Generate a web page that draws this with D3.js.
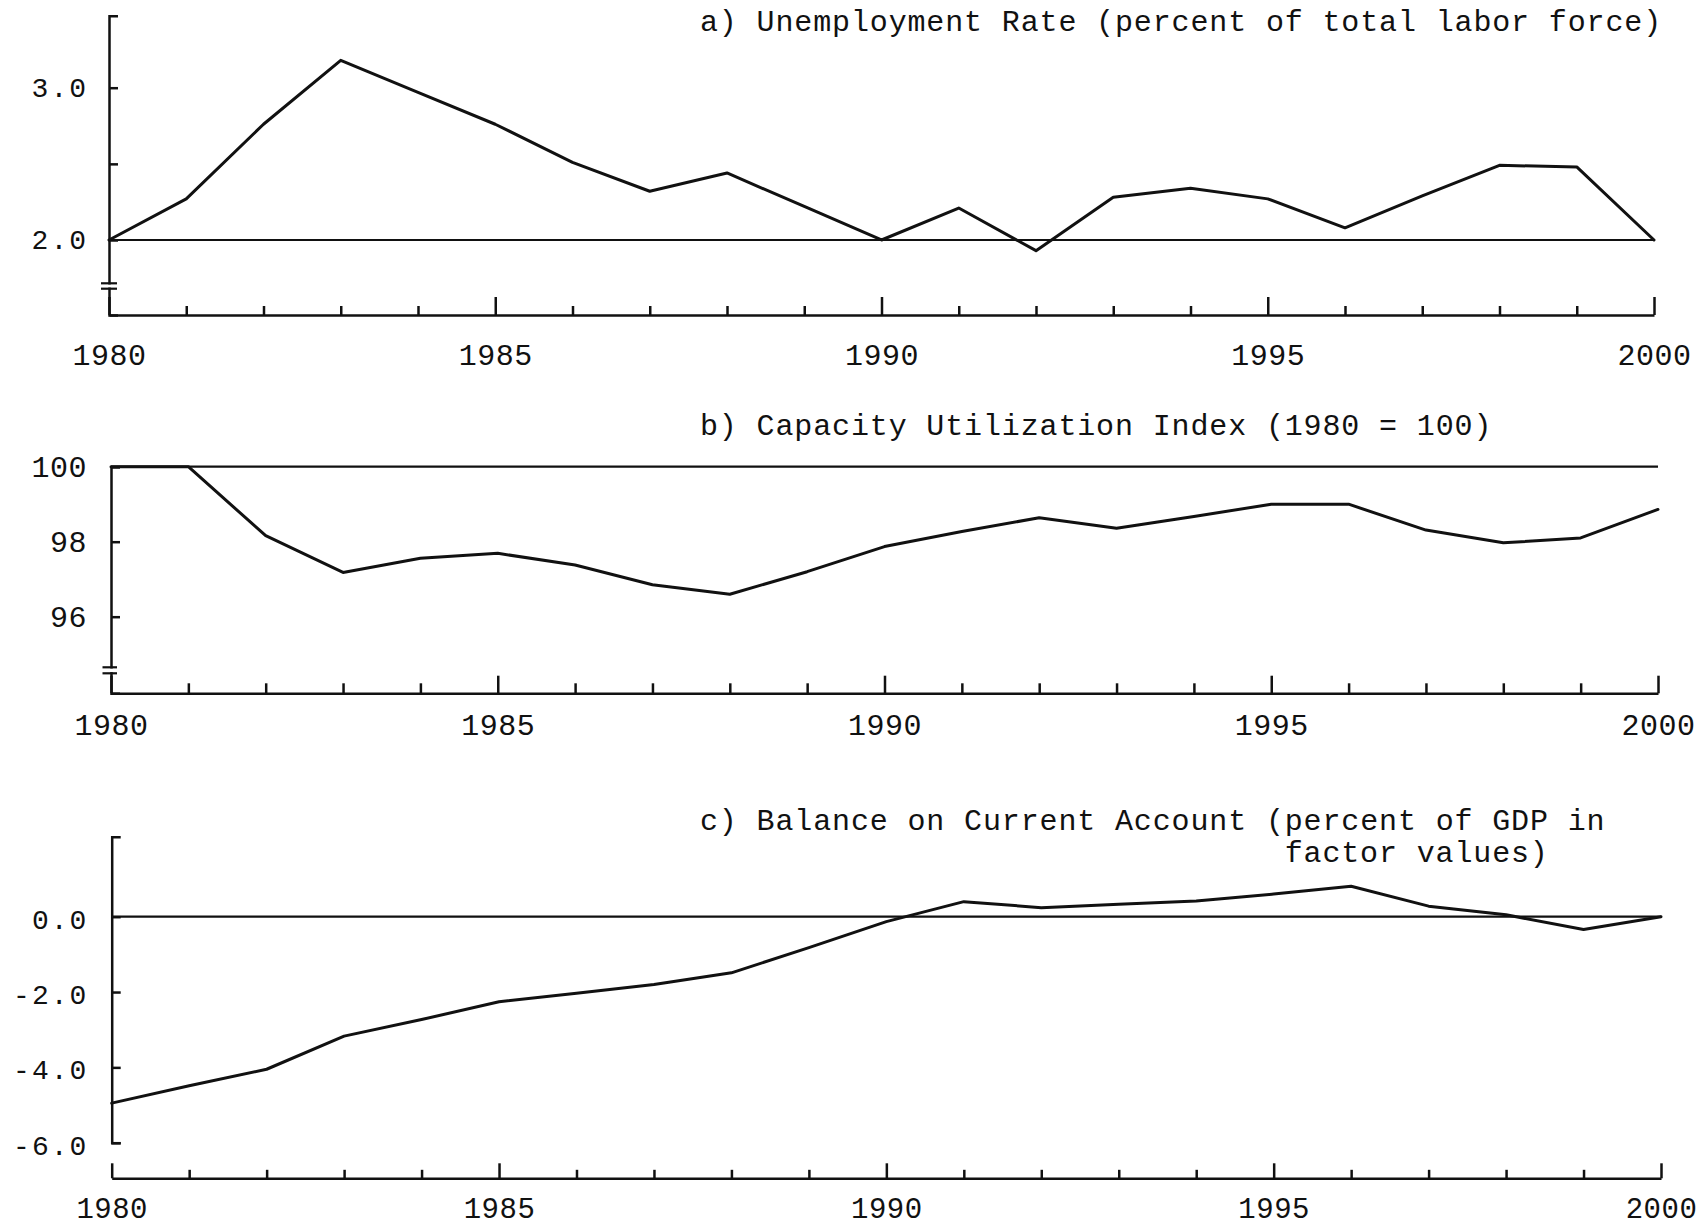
<!DOCTYPE html>
<html><head><meta charset="utf-8">
<script src="https://cdn.jsdelivr.net/npm/d3@7"></script>
<style>html,body{margin:0;padding:0;background:#fff;} svg{display:block;}</style>
</head><body>
<svg id="chart" width="1697" height="1229"></svg>
<script>
// ---------- data ----------
const years = [1980,1981,1982,1983,1984,1985,1986,1987,1988,1989,1990,1991,1992,1993,1994,1995,1996,1997,1998,1999,2000];
const majorYears = [1980,1985,1990,1995,2000];

const unemployment = [2.00,2.27,2.76,3.18,2.97,2.76,2.51,2.32,2.44,2.22,2.00,2.21,1.93,2.28,2.34,2.27,2.08,2.29,2.49,2.48,2.00];
const capacity = [100,100,98.16,97.18,97.56,97.69,97.38,96.85,96.60,97.20,97.87,98.27,98.64,98.36,98.67,99.00,99.00,98.31,97.97,98.10,98.86];
const currentAccount = [-4.95,-4.49,-4.05,-3.17,-2.73,-2.26,-2.03,-1.80,-1.49,-0.82,-0.13,0.40,0.24,0.33,0.42,0.60,0.81,0.28,0.05,-0.34,0.00];

const ticksA = [2.0,2.5,3.0];
const labelsA = ["2.0","","3.0"];
const ticksB = [96,98,100];
const labelsB = ["96","98","100"];
const ticksC = [-6,-4,-2,0];
const labelsC = ["-6.0","-4.0","-2.0","0.0"];

const titleA = ["a) Unemployment Rate (percent of total labor force)"];
const titleB = ["b) Capacity Utilization Index (1980 = 100)"];
const titleC = ["c) Balance on Current Account (percent of GDP in", "factor values)"];

const baselineA = 2.0, baselineB = 100, baselineC = 0;

// ---------- layout ----------
const INK = "#111";
const MONO = "'Liberation Mono', 'DejaVu Sans Mono', monospace";
const pitch = 18.86;
const titleX = 700;

const panels = [
  { values: unemployment, ticks: ticksA, labels: labelsA, base: baselineA, title: titleA,
    titleY: [30.7], indent2: 0,
    x0: 109, x1: 1654, xAxisY: 315,
    yDomain: [1.5075, 3.4728], yRange: [315, 15.7],
    brk: [283.3, 288.7], brkX: [-8, 8],
    majorLen: 18, minorLen: 9, xPad: 28.5, xFont: 30,
    yPad: 21, yFont: 28, yLS: 2, yShift: 1 },
  { values: capacity, ticks: ticksB, labels: labelsB, base: baselineB, title: titleB,
    titleY: [435], indent2: 0,
    x0: 111, x1: 1658, xAxisY: 693.3,
    yDomain: [93.957, 100], yRange: [693.3, 466.7],
    brk: [667.3, 673.3], brkX: [-8.5, 6],
    majorLen: 17.6, minorLen: 10, xPad: 20, xFont: 30,
    yPad: 24, yFont: 30, yLS: 0.5, yShift: 2 },
  { values: currentAccount, ticks: ticksC, labels: labelsC, base: baselineC, title: titleC,
    titleY: [830, 861.7], indent2: 31,
    x0: 111.7, x1: 1661, xAxisY: 1178.3,
    yDomain: [-6, 2.124], yRange: [1142.7, 836.7],
    brk: null,
    majorLen: 15, minorLen: 8.5, xPad: 19.5, xFont: 29,
    yPad: 23.4, yFont: 28, yLS: 2, yShift: 4 }
];

const svg = d3.select("#chart");

panels.forEach(p => {
  const g = svg.append("g");
  const x = d3.scaleLinear().domain([years[0], years[years.length-1]]).range([p.x0, p.x1]);
  const y = d3.scaleLinear().domain(p.yDomain).range(p.yRange);

  // title
  p.title.forEach((t, i) => {
    g.append("text")
      .attr("x", titleX + (i > 0 ? p.indent2 * pitch : 0))
      .attr("y", p.titleY[i])
      .attr("font-family", MONO)
      .attr("font-size", 30)
      .style("letter-spacing", "0.86px")
      .attr("fill", INK)
      .text(t);
  });

  // minor x ticks
  const minorAxis = d3.axisBottom(x)
    .tickValues(years.filter(yr => !majorYears.includes(yr)))
    .tickSizeInner(-p.minorLen).tickSizeOuter(0).tickFormat("");
  const gm = g.append("g").attr("transform", `translate(0,${p.xAxisY})`).call(minorAxis);
  gm.select(".domain").remove();

  // major x ticks + labels
  const majorAxis = d3.axisBottom(x)
    .tickValues(majorYears)
    .tickSizeInner(-p.majorLen).tickSizeOuter(0).tickPadding(p.xPad)
    .tickFormat(d3.format("d"));
  const gx = g.append("g").attr("transform", `translate(0,${p.xAxisY})`).call(majorAxis);
  gx.attr("font-family", MONO).attr("font-size", p.xFont);
  gx.selectAll("text").attr("fill", INK).style("letter-spacing", "0.5px");

  [gm, gx].forEach(a => a.selectAll("path,line").attr("stroke", INK).attr("stroke-width", 2.5));

  // y axis
  const yAxis = d3.axisLeft(y)
    .tickValues(p.ticks)
    .tickSizeInner(-9).tickSizeOuter(-9).tickPadding(p.yPad)
    .tickFormat((d, i) => p.labels[i]);
  const gy = g.append("g").attr("transform", `translate(${p.x0},0)`).call(yAxis);
  gy.attr("font-family", MONO).attr("font-size", p.yFont);
  gy.selectAll("text").attr("fill", INK).style("letter-spacing", p.yLS + "px")
    .attr("dy", null).attr("transform", `translate(0,${p.yShift})`)
    .attr("dominant-baseline", "central");
  gy.selectAll("path,line").attr("stroke", INK).attr("stroke-width", 2.5);

  // axis break
  if (p.brk) {
    g.append("rect")
      .attr("x", p.x0 - 3).attr("width", 7)
      .attr("y", p.brk[0] + 1.2).attr("height", p.brk[1] - p.brk[0] - 2.4)
      .attr("fill", "#fff");
    p.brk.forEach(by => {
      g.append("line")
        .attr("x1", p.x0 + p.brkX[0]).attr("x2", p.x0 + p.brkX[1])
        .attr("y1", by).attr("y2", by)
        .attr("stroke", INK).attr("stroke-width", 2.2);
    });
  }

  // reference baseline
  g.append("line")
    .attr("x1", x(years[0])).attr("x2", x(years[years.length-1]))
    .attr("y1", y(p.base)).attr("y2", y(p.base))
    .attr("stroke", INK).attr("stroke-width", 2.2);

  // data line
  const line = d3.line().x((d, i) => x(years[i])).y(d => y(d));
  g.append("path")
    .datum(p.values)
    .attr("d", line)
    .attr("fill", "none")
    .attr("stroke", INK)
    .attr("stroke-width", 3)
    .attr("stroke-linejoin", "round")
    .attr("stroke-linecap", "round");
});
</script>
</body></html>
